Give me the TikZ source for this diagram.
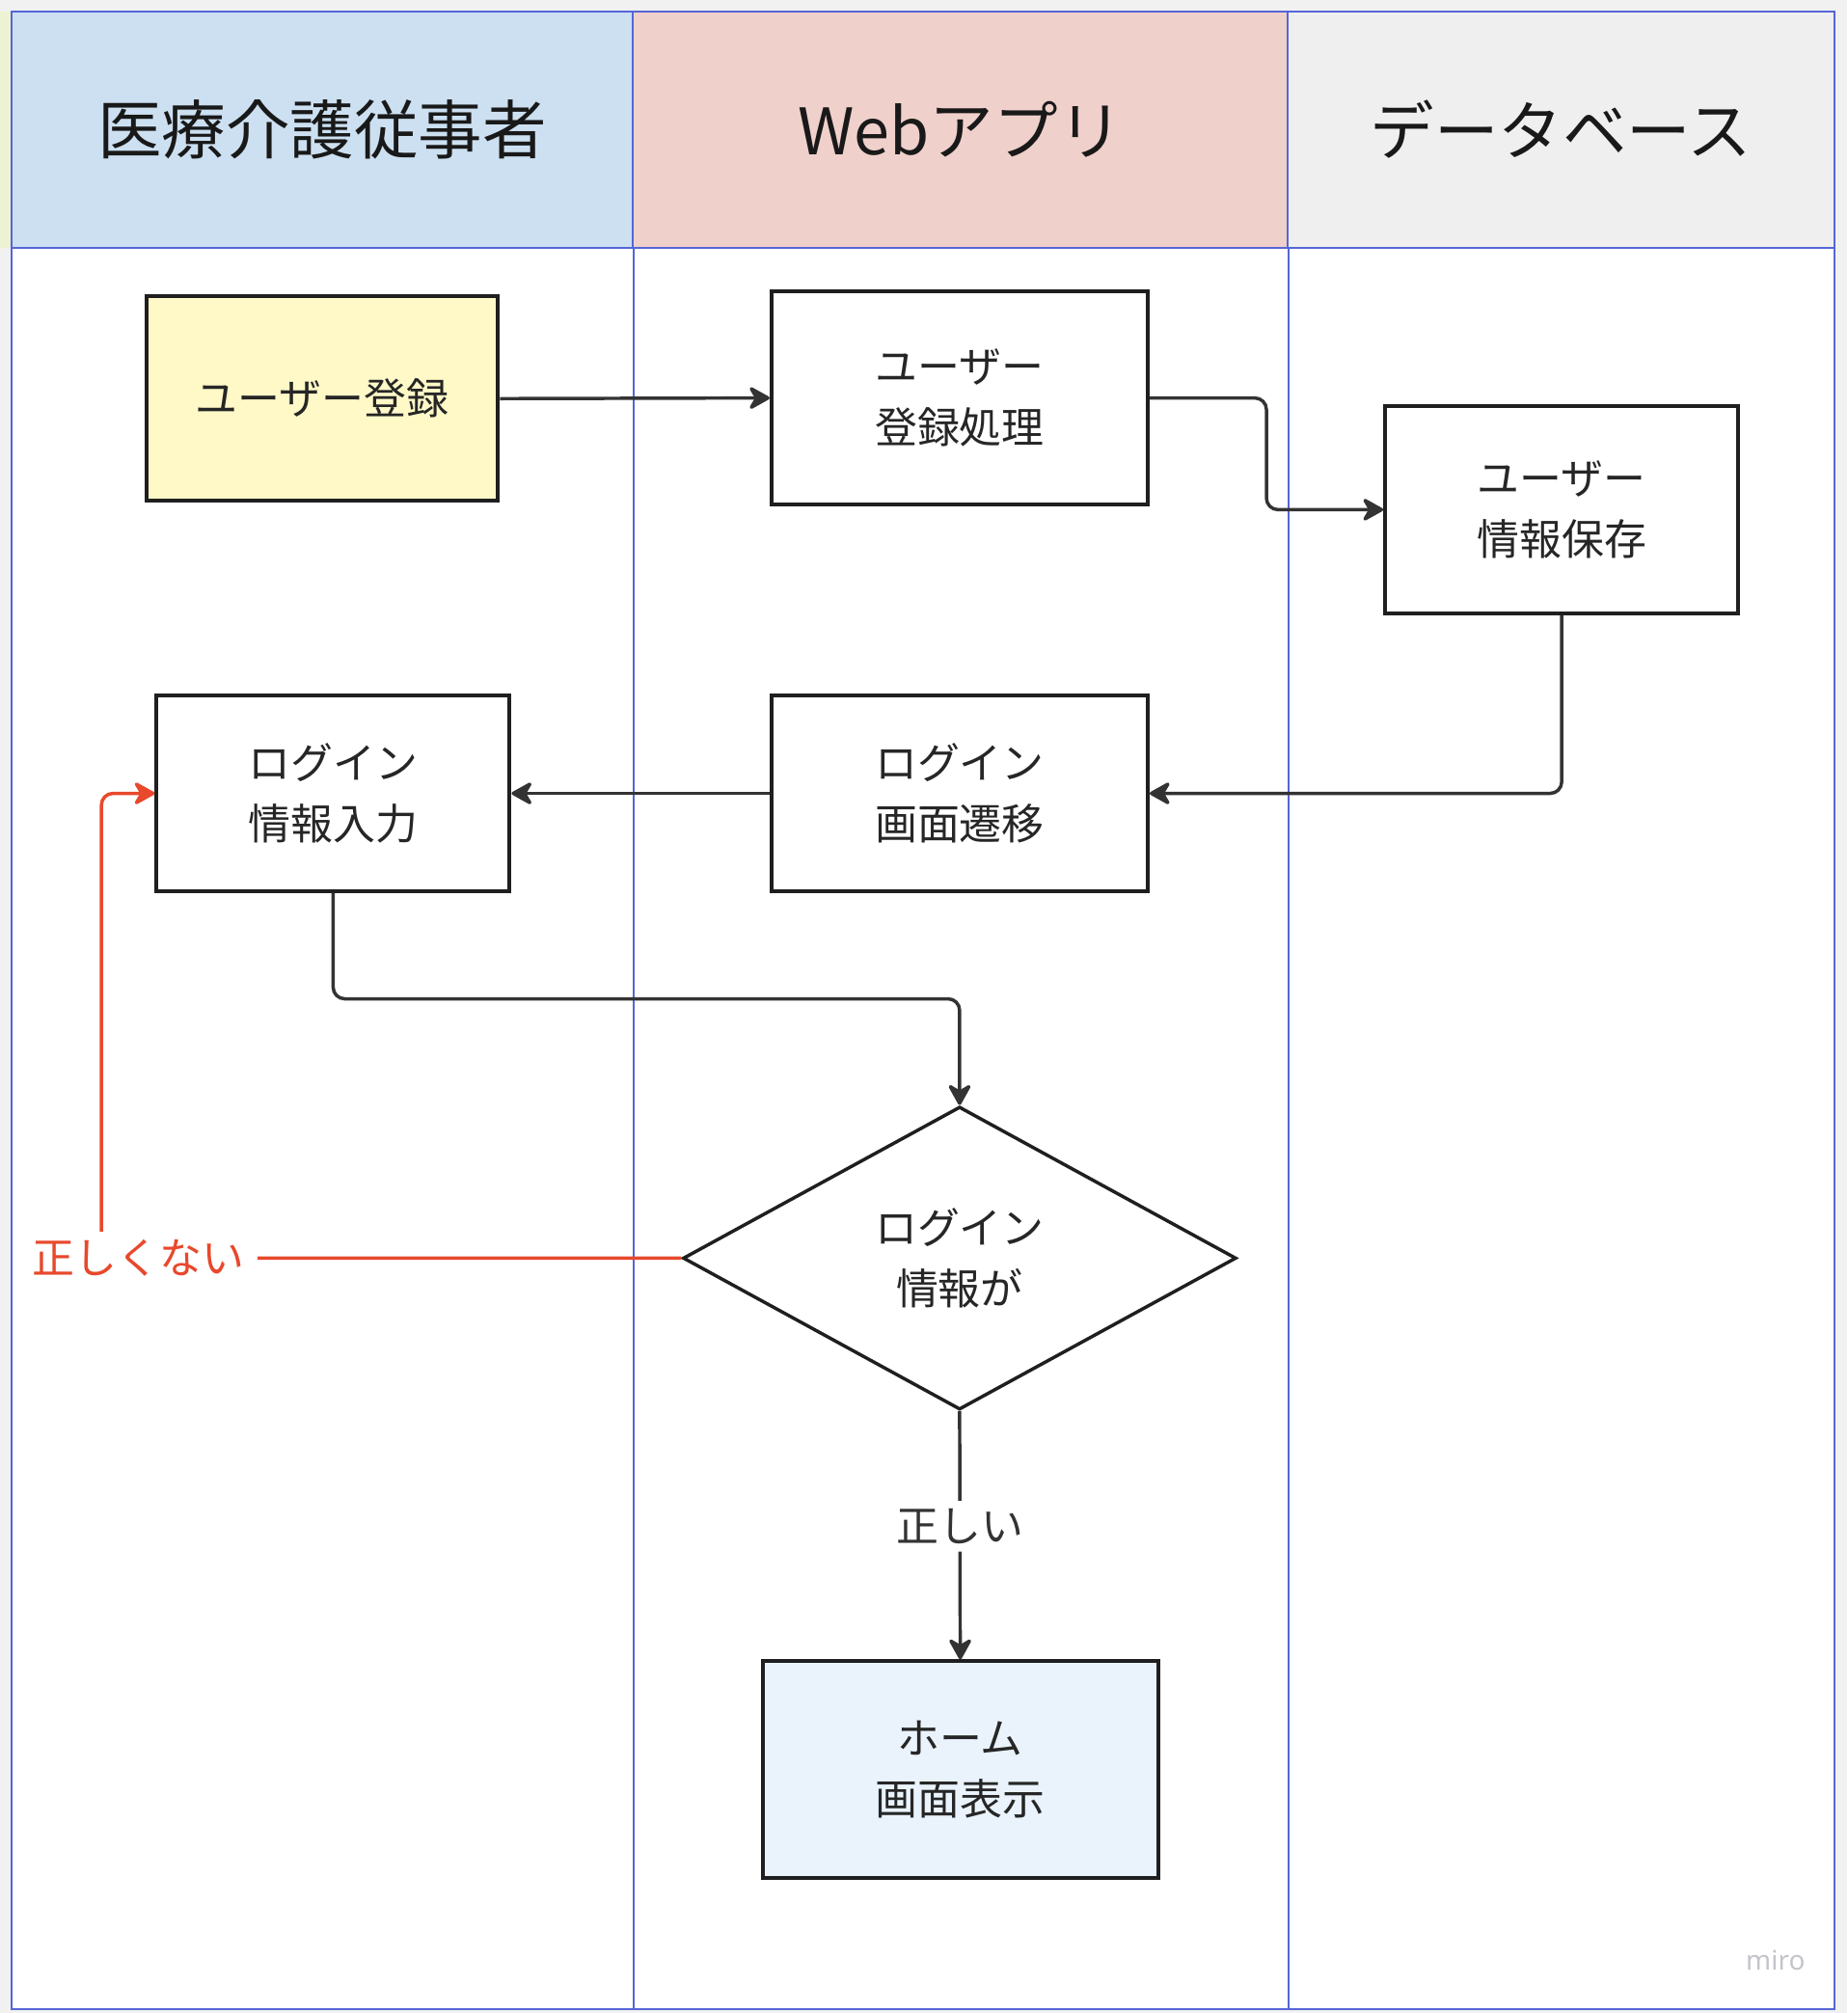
\documentclass[tikz,border=0pt]{standalone}
\usepackage{fontspec}
\setmainfont{Noto Sans CJK JP}
\newfontfamily\miroFont{Noto Sans}
\usepackage{tikz}
\usetikzlibrary{positioning,shapes.geometric,arrows.meta,calc}

\definecolor{laneBlue}{HTML}{CCE0F1}
\definecolor{lanePink}{HTML}{F0D0CB}
\definecolor{laneGray}{HTML}{EFEFEF}
\definecolor{laneLine}{HTML}{5566D6}
\definecolor{stripGreen}{HTML}{EDF2D2}
\definecolor{outerGray}{HTML}{F1F1F1}
\definecolor{noteYellow}{HTML}{FFF9C8}
\definecolor{homeBlue}{HTML}{EAF3FC}
\definecolor{flowGray}{HTML}{333333}
\definecolor{ngRed}{HTML}{E8482C}
\definecolor{markGray}{HTML}{C4C4CC}

\tikzset{
	lanehead/.style={draw=laneLine,
		line width=1.3pt,
		minimum height=184pt,
		inner sep=0pt,
		text=black!90,
		font=\fontsize{50}{60}\selectfont},
	procbox/.style={draw=black!88,
		line width=3pt,
		fill=white,
		inner sep=0pt,
		align=center,
		text=black!85,
		font=\fontsize{33}{47}\selectfont},
	flow/.style={draw=flowGray,
		line width=2.6pt,
		rounded corners=9pt,
		-{Stealth[length=19pt,width=21pt,round]}},
	ngflow/.style={flow, draw=ngRed},
	flowlabel/.style={fill=white,
		inner xsep=4pt,
		inner ysep=6pt,
		font=\fontsize{33}{40}\selectfont}
}

\begin{document}
\begin{tikzpicture}[x=1pt,y=-1pt]

% Canvas
\fill[outerGray] (0,0) rectangle (1439,1568);
\useasboundingbox (0,0) rectangle (1439,1568);
\fill[white] (9,9) rectangle (1429,1565);
\fill[stripGreen] (0,9) rectangle (9,193);

% Lane headers
\node[lanehead,
	fill=laneBlue,
	minimum width=484pt
] (carer) at (251,101) {医療介護従事者};

\node[lanehead,
	fill=lanePink,
	minimum width=510pt
] (webapp) at (748,101) {Webアプリ};

\node[lanehead,
	fill=laneGray,
	minimum width=426pt
] (database) at (1216,101) {データベース};

% Lane borders
\draw[laneLine, line width=1.3pt] (9,9) rectangle (1429,1565)
	(carer.south east) -- (carer.south east |- 0,1565)
	(webapp.south east) -- (webapp.south east |- 0,1565);

% Steps
\node[procbox,
	fill=noteYellow,
	minimum width=274pt,
	minimum height=159pt
] (register) at (251,310.5) {ユーザー登録};

\node[procbox,
	minimum width=293pt,
	minimum height=166pt
] (regproc) at (747.5,310) {ユーザー\\登録処理};

\node[procbox,
	minimum width=275pt,
	minimum height=162pt
] (saveinfo) at (1216.5,397) {ユーザー\\情報保存};

\node[procbox,
	minimum width=275pt,
	minimum height=152pt
] (loginput) at (259.5,618) {ログイン\\情報入力};

\node[procbox,
	minimum width=293pt,
	minimum height=152pt
] (loginscreen) at (747.5,618) {ログイン\\画面遷移};

% Decision
\node[procbox,
	diamond,
	aspect=1.83,
	line width=2.6pt,
	minimum width=431pt,
	minimum height=236pt
] (logincheck) at (747.5,980) {ログイン\\情報が};

\node[procbox,
	fill=homeBlue,
	minimum width=308pt,
	minimum height=169pt
] (home) at (748,1378.5) {ホーム\\画面表示};

% Arrows
\draw[flow] (register.east) -- (regproc.west);

\draw[flow] (regproc.east) -| ($(regproc.east)!.5!(saveinfo.west)$)
	|- (saveinfo.west);

\draw[flow] (saveinfo.south) |- (loginscreen.east);

\draw[flow] (loginscreen.west) -- (loginput.east);

\coordinate (inputturn) at (747.5,778);
\draw[flow] (loginput.south) |- (inputturn) -- (logincheck.north);

\draw[flow] (logincheck.south) -- (home.north)
	node[flowlabel, midway, yshift=7pt, text=black!80] (okay) {正しい};

% Retry path
\coordinate (ngturn) at (79,980);
\draw[ngflow] (logincheck.west) -- (ngturn) |- (loginput.west);
\node[flowlabel,
	inner xsep=10pt,
	text=ngRed
] (notokay) at (108,980) {正しくない};

% Watermark
\node[text=markGray, font=\fontsize{21}{24}\selectfont\miroFont] (mark) at (1383,1527) {miro};

\end{tikzpicture}
\end{document}
